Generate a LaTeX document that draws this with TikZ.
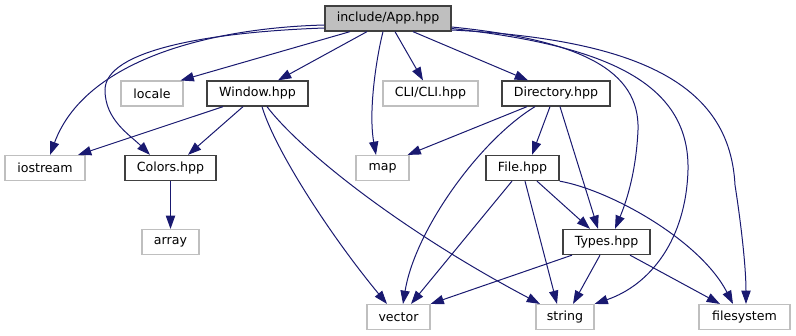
\documentclass[tikz,border=0pt]{standalone}
\usepackage{fontspec}
\setmainfont{DejaVu Sans}
\usetikzlibrary{arrows.meta}
\definecolor{edgeblue}{HTML}{191970}
\definecolor{docborder}{HTML}{404040}
\definecolor{extborder}{HTML}{BFBFBF}
\definecolor{rootfill}{HTML}{BFBFBF}
\tikzset{
  box/.style={rectangle, inner sep=0pt, minimum height=25pt,
    font=\fontsize{12.6}{15}\selectfont, text=black},
  docfile/.style={box, draw=docborder, line width=1.3pt},
  rootfile/.style={docfile, fill=rootfill},
  extfile/.style={box, draw=extborder, line width=1.1pt},
  dep/.style={draw=edgeblue, line width=1pt,
    -{Triangle[length=13.3pt,width=9.3pt]}, fill=none},
}
\begin{document}
\begin{tikzpicture}[x=1pt, y=-1pt]
\useasboundingbox (0,0) rectangle (796,336);

% header nodes
\node[rootfile, minimum width=126pt] (app)        at (388,18.5)  {include/App.hpp};
\node[extfile,  minimum width=62pt]  (locale)     at (152,93.5)  {locale};
\node[docfile,  minimum width=101pt] (window)     at (257.5,93.5) {Window.hpp};
\node[extfile,  minimum width=95pt]  (cli)        at (430.5,93.5) {CLI/CLI.hpp};
\node[docfile,  minimum width=108pt] (directory)  at (556,93.5)  {Directory.hpp};
\node[extfile,  minimum width=80pt]  (iostream)   at (45,168)    {iostream};
\node[docfile,  minimum width=91pt]  (colors)     at (170.5,168) {Colors.hpp};
\node[extfile,  minimum width=53pt]  (map)        at (382.5,168) {map};
\node[docfile,  minimum width=73pt]  (file)       at (522.5,168) {File.hpp};
\node[extfile,  minimum width=57pt]  (array)      at (170.5,242) {array};
\node[docfile,  minimum width=87pt]  (types)      at (606.5,242) {Types.hpp};
\node[extfile,  minimum width=63pt]  (vector)     at (398.5,317) {vector};
\node[extfile,  minimum width=58pt]  (string)     at (565,317)   {string};
\node[extfile,  minimum width=91pt]  (filesystem) at (744.5,317) {filesystem};

% include/App.hpp
\draw[dep] ([yshift=-6.5pt]app.west) .. controls (210,28) and (85,60) .. ([xshift=5pt]iostream.north);
\draw[dep] ([yshift=-9.5pt]app.west) .. controls (210,32) and (105,50) .. (105,90)
           .. controls (105,120) and (130,135) .. ([xshift=-20.5pt]colors.north);
\draw[dep] ([xshift=-38pt]app.south) -- ([xshift=-3pt]locale.north east);
\draw[dep] ([xshift=-21pt]app.south) -- ([xshift=20.5pt]window.north);
\draw[dep] ([xshift=-5pt]app.south) .. controls (377,55) and (368,110) .. ([xshift=-6.5pt]map.north);
\draw[dep] ([xshift=7pt]app.south) -- ([xshift=-7.5pt]cli.north);
\draw[dep] ([xshift=25pt]app.south) -- ([xshift=-28pt]directory.north);
\draw[dep] ([yshift=-8.5pt]app.east) .. controls (580,40) and (640,70) .. (638,130)
           .. controls (636,175) and (625,205) .. ([xshift=8.5pt]types.north);
\draw[dep] ([yshift=-10pt]app.east) .. controls (600,45) and (690,80) .. (688,170)
           .. controls (686,240) and (650,285) .. (string.north east);
\draw[dep] ([yshift=-11.5pt]app.east) .. controls (650,40) and (730,90) .. (735,185)
           .. controls (742,230) and (746,270) .. ([xshift=1.5pt]filesystem.north);

% Window.hpp
\draw[dep] ([xshift=-34.5pt]window.south) -- ([xshift=33pt]iostream.north);
\draw[dep] ([xshift=-14.5pt]window.south) -- ([xshift=17.5pt]colors.north);
\draw[dep] ([xshift=4.5pt]window.south) .. controls (275,150) and (330,235) .. ([xshift=-11.5pt]vector.north);
\draw[dep] ([xshift=9.5pt]window.south) .. controls (300,150) and (400,230) .. ([xshift=-25pt]string.north);

% Colors.hpp
\draw[dep] (colors) -- (array);

% Directory.hpp
\draw[dep] ([xshift=-29pt]directory.south) -- ([xshift=-2pt]map.north east);
\draw[dep] ([xshift=-21pt]directory.south) .. controls (480,140) and (415,230) .. ([xshift=4.5pt]vector.north);
\draw[dep] ([xshift=-6pt]directory.south) -- ([xshift=9.5pt]file.north);
\draw[dep] ([xshift=4pt]directory.south) -- ([xshift=-8.5pt]types.north);

% File.hpp
\draw[dep] ([xshift=-10.5pt]file.south) -- ([xshift=12.5pt]vector.north);
\draw[dep] ([xshift=2.5pt]file.south) -- ([xshift=-8pt]string.north);
\draw[dep] ([xshift=14.5pt]file.south) -- ([xshift=-16.5pt]types.north);
\draw[dep] (file.south east) .. controls (610,190) and (700,240) .. ([xshift=-11.5pt]filesystem.north);

% Types.hpp
\draw[dep] ([xshift=-34.5pt]types.south) -- (vector.north east);
\draw[dep] ([xshift=-6.5pt]types.south) -- ([xshift=8pt]string.north);
\draw[dep] ([xshift=23.5pt]types.south) -- ([xshift=-24.5pt]filesystem.north);
\end{tikzpicture}
\end{document}
